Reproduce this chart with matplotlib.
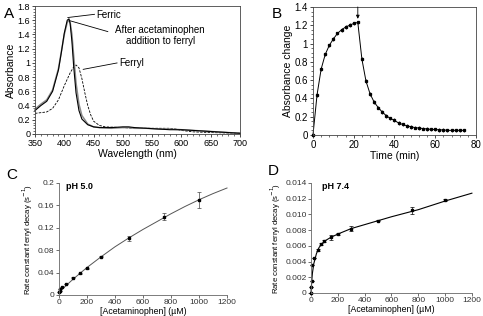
import matplotlib
matplotlib.use("Agg")
import matplotlib.pyplot as plt
from matplotlib.ticker import MultipleLocator, FixedLocator

plt.rcParams['font.family'] = ['Liberation Sans', 'DejaVu Sans']

# ---------------- Panel A data ----------------
wl_ferric = [350, 360, 370, 380, 390, 395, 400, 405, 408, 410, 413, 416, 420, 425, 430, 440, 450, 460,
             480, 500, 510, 520, 540, 560, 580, 600, 620, 640, 660, 680, 700]
abs_ferric = [0.33, 0.40, 0.46, 0.60, 0.90, 1.15, 1.42, 1.60, 1.62, 1.55, 1.30, 0.95, 0.58, 0.33, 0.21,
              0.13, 0.10, 0.09, 0.09, 0.10, 0.10, 0.09, 0.08, 0.07, 0.06, 0.06, 0.05, 0.04, 0.03, 0.02, 0.01]
wl_after = [350, 360, 370, 380, 390, 395, 400, 405, 408, 410, 413, 416, 420, 425, 430, 440, 450, 460,
            480, 500, 510, 520, 540, 560, 580, 600, 620, 640, 660, 680, 700]
abs_after = [0.35, 0.42, 0.48, 0.62, 0.92, 1.16, 1.40, 1.57, 1.60, 1.57, 1.40, 1.10, 0.72, 0.42, 0.26,
             0.14, 0.10, 0.09, 0.08, 0.09, 0.09, 0.08, 0.08, 0.07, 0.07, 0.06, 0.05, 0.04, 0.03, 0.02, 0.01]
wl_ferryl = [350, 360, 370, 380, 390, 400, 410, 415, 420, 425, 430, 435, 440, 445, 450, 460, 470,
             500, 520, 540, 560, 580, 590, 600, 620, 650, 700]
abs_ferryl = [0.29, 0.30, 0.31, 0.36, 0.48, 0.68, 0.86, 0.93, 0.97, 0.93, 0.78, 0.58, 0.40, 0.27, 0.18,
              0.12, 0.10, 0.09, 0.08, 0.08, 0.08, 0.08, 0.07, 0.05, 0.03, 0.02, 0.01]

# ---------------- Panel B data ----------------
time_min = [0, 2, 4, 6, 8, 10, 12, 14, 16, 18, 20, 22, 24, 26, 28, 30, 32, 34, 36, 38, 40, 42, 44, 46,
            48, 50, 52, 54, 56, 58, 60, 62, 64, 66, 68, 70, 72, 74]
abs_change = [0.0, 0.44, 0.72, 0.88, 0.98, 1.05, 1.11, 1.15, 1.18, 1.20, 1.22, 1.23, 0.83, 0.59, 0.45,
              0.36, 0.30, 0.25, 0.21, 0.18, 0.16, 0.13, 0.115, 0.10, 0.09, 0.08, 0.075, 0.07, 0.065,
              0.06, 0.06, 0.055, 0.055, 0.05, 0.05, 0.05, 0.05, 0.05]
arrow_time = 22

# ---------------- Panel C data ----------------
conc_c = [0, 5, 10, 25, 50, 100, 150, 200, 300, 500, 750, 1000]
rate_c = [0.005, 0.008, 0.010, 0.015, 0.020, 0.031, 0.039, 0.048, 0.068, 0.101, 0.140, 0.170]
err_c = [0, 0, 0, 0, 0, 0.001, 0.001, 0.001, 0.001, 0.004, 0.006, 0.014]
fit_x_c = [0, 100, 200, 300, 400, 500, 600, 700, 800, 900, 1000, 1100, 1200]
fit_y_c = [0.005, 0.028, 0.049, 0.068, 0.086, 0.102, 0.117, 0.131, 0.145, 0.158, 0.170, 0.181, 0.191]

# ---------------- Panel D data ----------------
conc_d = [0, 2, 5, 10, 25, 50, 75, 100, 150, 200, 300, 500, 750, 1000]
rate_d = [0.0, 0.0008, 0.0015, 0.0035, 0.0045, 0.0055, 0.0062, 0.0066, 0.0071, 0.0075, 0.0082,
          0.0092, 0.0105, 0.0118]
err_d = [0, 0, 0, 0, 0, 0.0001, 0.0001, 0.0001, 0.0003, 0.0001, 0.0003, 0.0001, 0.0004, 0.0001]
fit_x_d = [0, 5, 10, 20, 40, 60, 100, 150, 200, 300, 400, 500, 600, 800, 1000, 1200]
fit_y_d = [0.0, 0.0015, 0.0025, 0.0037, 0.0050, 0.0058, 0.0066, 0.0071, 0.0075, 0.0082, 0.0087,
           0.0092, 0.0097, 0.0106, 0.0117, 0.0127]

fig = plt.figure(figsize=(4.83, 3.16), dpi=100)

def fmt(v):
    return '%g' % v

# ---------- A ----------
axA = fig.add_axes([0.0725, 0.576, 0.4245, 0.405])
axA.plot(wl_ferryl, abs_ferryl, color='black', lw=0.6, ls=(0, (3, 1.5)))
axA.plot(wl_after, abs_after, color='#8a8a8a', lw=1.1)
axA.plot(wl_ferric, abs_ferric, color='black', lw=0.8)
axA.set_xlim(350, 700)
axA.set_ylim(0, 1.8)
axA.xaxis.set_major_locator(MultipleLocator(50))
axA.xaxis.set_minor_locator(MultipleLocator(10))
axA.yaxis.set_major_locator(MultipleLocator(0.2))
axA.yaxis.set_minor_locator(MultipleLocator(0.04))
axA.set_yticklabels([fmt(round(v, 1)) for v in axA.get_yticks()])
axA.tick_params(labelsize=6.5, length=2, width=0.5, pad=1.5)
axA.tick_params(which='minor', length=1.2, width=0.4)
axA.set_xlabel('Wavelength (nm)', fontsize=7.5, labelpad=1)
axA.set_ylabel('Absorbance', fontsize=7.5, labelpad=1)
for s in axA.spines.values():
    s.set_linewidth(0.6)
    s.set_color('#444444')
# annotation leader lines (axes-fraction coordinates)
tA = axA.transAxes
axA.plot([0.16, 0.29], [0.91, 0.935], color='black', lw=0.6, transform=tA, clip_on=False)
axA.text(0.30, 0.93, 'Ferric', transform=tA, fontsize=7, va='center', ha='left')
axA.plot([0.17, 0.355], [0.885, 0.80], color='black', lw=0.6, transform=tA, clip_on=False)
axA.text(0.61, 0.77, 'After acetaminophen\naddition to ferryl', transform=tA, fontsize=7,
         va='center', ha='center', linespacing=1.1)
axA.plot([0.235, 0.40], [0.505, 0.555], color='black', lw=0.6, transform=tA, clip_on=False)
axA.text(0.41, 0.555, 'Ferryl', transform=tA, fontsize=7, va='center', ha='left')
fig.text(0.008, 0.955, 'A', fontsize=11, va='center')

# ---------- B ----------
axB = fig.add_axes([0.648, 0.573, 0.3375, 0.405])
axB.errorbar(time_min, abs_change, yerr=0.02, color='black', lw=0.7, marker='s', ms=1.4,
             elinewidth=0.5, capsize=0)
axB.set_xlim(0, 80)
axB.set_ylim(0, 1.4)
axB.xaxis.set_major_locator(MultipleLocator(20))
axB.xaxis.set_minor_locator(MultipleLocator(4))
axB.yaxis.set_major_locator(MultipleLocator(0.2))
axB.yaxis.set_minor_locator(MultipleLocator(0.05))
axB.set_yticklabels([fmt(round(v, 1)) for v in axB.get_yticks()])
axB.tick_params(labelsize=7, length=2, width=0.5, pad=1.5)
axB.tick_params(which='minor', length=1.2, width=0.4)
axB.set_xlabel('Time (min)', fontsize=7.5, labelpad=1)
axB.set_ylabel('Absorbance change', fontsize=7.5, labelpad=1)
for s in axB.spines.values():
    s.set_linewidth(0.6)
    s.set_color('#444444')
axB.annotate('', xy=(arrow_time, 1.27), xytext=(arrow_time, 1.4),
             arrowprops=dict(arrowstyle='-|>', lw=0.6, color='black', mutation_scale=5,
                             shrinkA=0, shrinkB=0))
fig.text(0.563, 0.955, 'B', fontsize=11, va='center')

# ---------- C ----------
axC = fig.add_axes([0.122, 0.0665, 0.348, 0.3545])
axC.plot(fit_x_c, fit_y_c, color='#555555', lw=0.7)
axC.errorbar(conc_c, rate_c, yerr=err_c, fmt='s', color='black', ms=1.6, elinewidth=0.5,
             capsize=1.5, capthick=0.5, ecolor='#444444')
axC.set_xlim(0, 1200)
axC.set_ylim(0, 0.2)
axC.xaxis.set_major_locator(MultipleLocator(200))
axC.yaxis.set_major_locator(FixedLocator([0, 0.04, 0.08, 0.12, 0.16, 0.2]))
axC.set_yticklabels(['0', '0.04', '0.08', '0.12', '0.16', '0.2'])
axC.spines['top'].set_visible(False)
axC.spines['right'].set_visible(False)
for s in ('left', 'bottom'):
    axC.spines[s].set_linewidth(0.6)
    axC.spines[s].set_color('#666666')
axC.tick_params(labelsize=6.0, length=2, width=0.5, pad=1.2, colors='#333333')
axC.set_xlabel('[Acetaminophen] (µM)', fontsize=6.3, labelpad=0.5)
axC.set_ylabel('Rate constant ferryl decay (s$^{-1}$)', fontsize=5.6, labelpad=2)
axC.text(0.04, 0.97, 'pH 5.0', transform=axC.transAxes, fontsize=6.5, fontweight='bold',
         va='center')
fig.text(0.012, 0.447, 'C', fontsize=11, va='center')

# ---------- D ----------
axD = fig.add_axes([0.644, 0.0728, 0.333, 0.3482])
axD.plot(fit_x_d, fit_y_d, color='black', lw=0.8)
axD.errorbar(conc_d, rate_d, yerr=err_d, fmt='s', color='black', ms=1.6, elinewidth=0.5,
             capsize=1.5, capthick=0.5)
axD.set_xlim(0, 1200)
axD.set_ylim(0, 0.014)
axD.xaxis.set_major_locator(MultipleLocator(200))
axD.yaxis.set_major_locator(FixedLocator([0, 0.002, 0.004, 0.006, 0.008, 0.010, 0.012, 0.014]))
axD.set_yticklabels(['0', '0.002', '0.004', '0.006', '0.008', '0.010', '0.012', '0.014'])
axD.spines['top'].set_visible(False)
axD.spines['right'].set_visible(False)
for s in ('left', 'bottom'):
    axD.spines[s].set_linewidth(0.6)
    axD.spines[s].set_color('#666666')
axD.tick_params(labelsize=6.0, length=2, width=0.5, pad=1.2, colors='#333333')
axD.set_xlabel('[Acetaminophen] (µM)', fontsize=6.3, labelpad=0.5)
axD.set_ylabel('Rate constant ferryl decay (s$^{-1}$)', fontsize=5.6, labelpad=1.5)
axD.text(0.07, 0.97, 'pH 7.4', transform=axD.transAxes, fontsize=6.5, fontweight='bold',
         va='center')
fig.text(0.555, 0.458, 'D', fontsize=11, va='center')

for ax in (axA, axB, axC, axD):
    for line in ax.get_lines():
        line.set_clip_on(False)

fig.savefig('out.png', dpi=100)
